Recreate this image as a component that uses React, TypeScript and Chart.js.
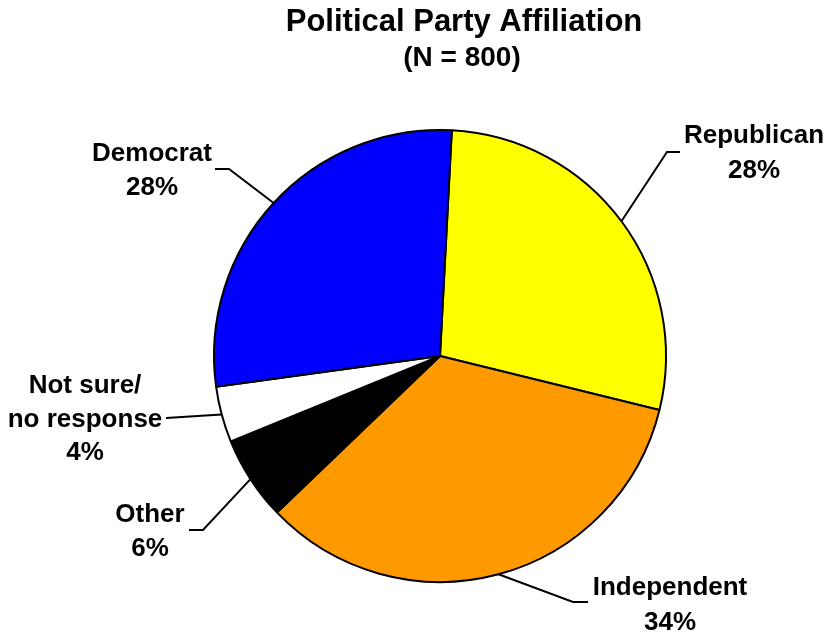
import React, { useEffect, useRef } from "react";
import { Chart, registerables } from "chart.js";

Chart.register(...registerables);

const titleText = "Political Party Affiliation";
const subtitleText = "(N = 800)";
const categories = ["Republican", "Independent", "Other", "Not sure/ no response", "Democrat"];
const labelLines = [["Republican"], ["Independent"], ["Other"], ["Not sure/", "no response"], ["Democrat"]];
const values = [28, 34, 6, 4, 28];
const colors = ["#FFFF00", "#FF9900", "#000000", "#FFFFFF", "#0000FF"];

// label placement: elbow point, line end, text centre x, first baseline, line height
const labelLayout = [
  { elbow: [667, 152], end: [680, 152], tx: 754, ty: 143, lh: 35 },
  { elbow: [573, 602], end: [588, 602], tx: 670, ty: 595, lh: 35 },
  { elbow: [203, 530], end: [189, 530], tx: 150, ty: 522, lh: 34 },
  { elbow: [166, 418], end: [166, 418], tx: 85, ty: 393, lh: 33.5 },
  { elbow: [229, 169], end: [215, 169], tx: 152, ty: 161, lh: 34 },
];

const FONT = '"Liberation Sans", Arial, Helvetica, sans-serif';

const labelPlugin = {
  id: "pieLabels",
  afterDraw(chart: any) {
    const ctx = chart.ctx;
    ctx.save();
    // title
    ctx.fillStyle = "#000";
    ctx.textAlign = "center";
    ctx.textBaseline = "alphabetic";
    ctx.font = `bold 31px ${FONT}`;
    ctx.fillText(titleText, 464, 31);
    ctx.font = `bold 28px ${FONT}`;
    ctx.fillText(subtitleText, 462, 66);

    const meta = chart.getDatasetMeta(0);
    meta.data.forEach((arc: any, i: number) => {
      const p = arc.getProps(["x", "y", "startAngle", "endAngle", "outerRadius"], true);
      const mid = (p.startAngle + p.endAngle) / 2;
      const sx = p.x + Math.cos(mid) * p.outerRadius;
      const sy = p.y + Math.sin(mid) * p.outerRadius;
      const L = labelLayout[i];
      ctx.strokeStyle = "#000";
      ctx.lineWidth = 2;
      ctx.beginPath();
      ctx.moveTo(sx, sy);
      ctx.lineTo(L.elbow[0], L.elbow[1]);
      ctx.lineTo(L.end[0], L.end[1]);
      ctx.stroke();
      ctx.font = `bold 26px ${FONT}`;
      ctx.fillStyle = "#000";
      const lines = [...labelLines[i], `${values[i]}%`];
      lines.forEach((t, k) => {
        ctx.fillText(t, L.tx, L.ty + k * L.lh);
      });
    });
    ctx.restore();
  },
};

export default function App() {
  const ref = useRef<HTMLCanvasElement | null>(null);
  useEffect(() => {
    document.body.style.margin = "0";
    const canvas = ref.current!;
    const chart = new Chart(canvas, {
      type: "pie",
      data: {
        labels: categories,
        datasets: [
          {
            data: values,
            backgroundColor: colors,
            borderColor: "#000000",
            borderWidth: 2,
          },
        ],
      },
      options: {
        responsive: false,
        animation: false,
        rotation: 3,
        layout: { padding: { left: 213, right: 160, top: 129, bottom: 52 } },
        plugins: {
          legend: { display: false },
          title: { display: false },
          tooltip: { enabled: false },
        },
      },
      plugins: [labelPlugin],
    });
    return () => chart.destroy();
  }, []);
  return (
    <div style={{ width: 827, height: 635, background: "#fff" }}>
      <canvas ref={ref} width={827} height={635} />
    </div>
  );
}
